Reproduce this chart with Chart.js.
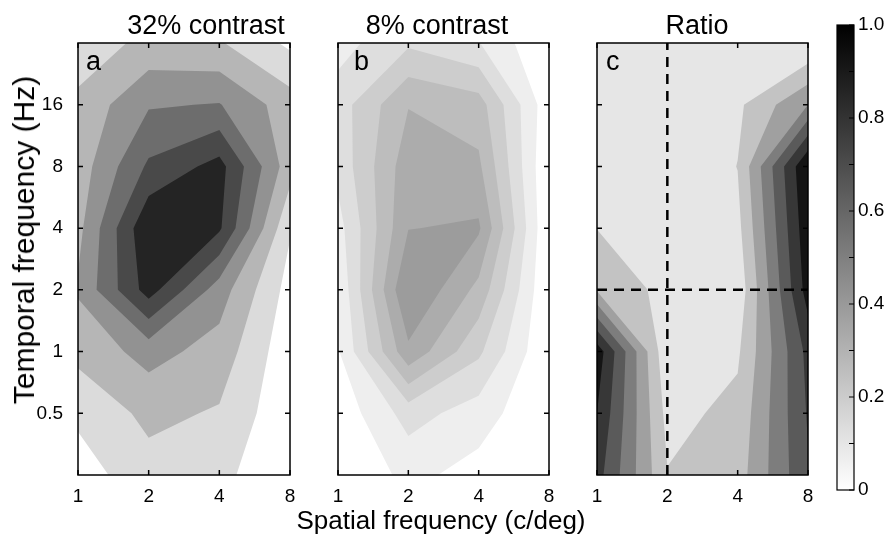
<!DOCTYPE html>
<html>
<head>
<meta charset="utf-8">
<script src="https://cdn.jsdelivr.net/npm/chart.js@4.4.0/dist/chart.umd.min.js"></script>
<style>
  body { margin: 0; background: #fff; }
  #page { position: relative; width: 889px; height: 547px; overflow: hidden; font-family: "Liberation Sans", Arial, sans-serif; color: #000; }
  canvas { position: absolute; top: 0; }
  .txt { position: absolute; white-space: nowrap; line-height: 1; }
</style>
</head>
<body>
<div id="page">
  <canvas id="panel-a" width="300" height="510" style="left:0px"></canvas>
  <canvas id="panel-b" width="251" height="510" style="left:308px"></canvas>
  <canvas id="panel-c" width="251" height="510" style="left:567px"></canvas>
  <canvas id="colorbar" width="69" height="500" style="left:820px"></canvas>

  <div class="txt" style="left:56px;width:300px;text-align:center;top:12px;font-size:27px">32% contrast</div>
  <div class="txt" style="left:287px;width:300px;text-align:center;top:12px;font-size:27px">8% contrast</div>
  <div class="txt" style="left:547px;width:300px;text-align:center;top:12px;font-size:27px">Ratio</div>
  <div class="txt" style="left:86px;top:48px;font-size:27px">a</div>
  <div class="txt" style="left:354px;top:48px;font-size:27px">b</div>
  <div class="txt" style="left:606px;top:48px;font-size:27px">c</div>
  <div class="txt" style="left:241px;width:400px;text-align:center;top:507px;font-size:26px">Spatial frequency (c/deg)</div>
  <div class="txt" style="left:24px;top:240px;font-size:30px;transform:translate(-50%,-50%) rotate(-90deg)">Temporal frequency (Hz)</div>
</div>

<script>
// grid of the measurements
const xFreq = [1, 2, 4, 8];                       // spatial frequency (c/deg)
const yFreq = [0.25, 0.5, 1, 2, 4, 8, 16, 32];    // temporal frequency (Hz)
const xTicks = [1, 2, 4, 8];
const yTicks = [0.5, 1, 2, 4, 8, 16];

// responses, one row per temporal frequency (bottom to top), columns = xFreq
const contrast32 = [
  [0.077, 0.230, 0.184, 0.014],
  [0.171, 0.323, 0.271, 0.029],
  [0.329, 0.483, 0.371, 0.043],
  [0.446, 0.921, 0.500, 0.086],
  [0.386, 0.986, 0.879, 0.157],
  [0.351, 0.739, 0.910, 0.347],
  [0.323, 0.557, 0.579, 0.354],
  [0.193, 0.329, 0.300, 0.114]
];
const contrast8 = [
  [0.000, 0.084, 0.039, 0.000],
  [0.020, 0.157, 0.099, 0.000],
  [0.059, 0.375, 0.208, 0.000],
  [0.072, 0.462, 0.306, 0.000],
  [0.104, 0.388, 0.400, 0.000],
  [0.150, 0.364, 0.338, 0.001],
  [0.163, 0.322, 0.290, 0.021],
  [0.104, 0.184, 0.133, 0.000]
];
const ratio = [
  [0.840, 0.244, 0.311, 0.771],
  [0.922, 0.193, 0.275, 0.799],
  [1.004, 0.125, 0.216, 0.826],
  [0.360, 0.189, 0.141, 0.986],
  [0.234, 0.127, 0.196, 1.026],
  [0.100, 0.100, 0.240, 1.066],
  [0.100, 0.100, 0.210, 0.511],
  [0.100, 0.100, 0.100, 0.100]
];

// contour levels of each panel
const levels32 = [0.143, 0.286, 0.429, 0.571, 0.714, 0.857];
const levels8 = [0.065, 0.13, 0.195, 0.26, 0.325, 0.39];
const levelsRatio = [0.1, 0.237, 0.374, 0.511, 0.648, 0.785, 0.922];

// dashed reference lines in the ratio panel
const refX = 2;
const refY = 2;

// colorbar ticks
const cbTicks = [0, 0.1, 0.2, 0.3, 0.4, 0.5, 0.6, 0.7, 0.8, 0.9, 1.0];

Chart.defaults.font.family = '"Liberation Sans", Arial, sans-serif';
Chart.defaults.color = '#000';

function gray(v) {
  const g = Math.round(255 * Math.min(1, Math.max(0, 1 - v)));
  return `rgb(${g},${g},${g})`;
}

function noPad(s) {
  s.paddingLeft = 0;
  s.paddingRight = 0;
  s.paddingTop = 0;
  s.paddingBottom = 0;
}

// filled contours, cell by cell, through the chart scales
function contourPlugin(z, levels) {
  return {
    id: 'contour',
    beforeDatasetsDraw(chart) {
      const { ctx, chartArea, scales } = chart;
      const px = xFreq.map((v) => scales.x.getPixelForValue(v));
      const py = yFreq.map((v) => scales.y.getPixelForValue(v));
      ctx.save();
      ctx.fillStyle = '#fff';
      ctx.fillRect(chartArea.left, chartArea.top, chartArea.width, chartArea.height);
      levels.forEach((L) => {
        ctx.beginPath();
        for (let j = 0; j < yFreq.length - 1; j++) {
          for (let i = 0; i < xFreq.length - 1; i++) {
            const c = [[i, j], [i + 1, j], [i + 1, j + 1], [i, j + 1]].map(([a, b]) => ({
              x: px[a], y: py[b], z: z[b][a]
            }));
            const poly = [];
            for (let m = 0; m < 4; m++) {
              const A = c[m], B = c[(m + 1) % 4];
              if (A.z >= L) poly.push(A);
              if ((A.z >= L) !== (B.z >= L)) {
                const t = (L - A.z) / (B.z - A.z);
                poly.push({ x: A.x + t * (B.x - A.x), y: A.y + t * (B.y - A.y) });
              }
            }
            if (poly.length > 2) {
              ctx.moveTo(poly[0].x, poly[0].y);
              poly.slice(1).forEach((q) => ctx.lineTo(q.x, q.y));
              ctx.closePath();
            }
          }
        }
        ctx.fillStyle = gray(L);
        ctx.fill();
      });
      ctx.restore();
    }
  };
}

// box and inward ticks (matlab style)
const framePlugin = {
  id: 'frame',
  afterDraw(chart) {
    const { ctx, chartArea: a, scales: { x, y } } = chart;
    ctx.save();
    ctx.strokeStyle = '#000';
    ctx.lineWidth = 1.5;
    ctx.beginPath();
    xTicks.forEach((v) => {
      const p = x.getPixelForValue(v);
      ctx.moveTo(p, a.bottom); ctx.lineTo(p, a.bottom - 5);
      ctx.moveTo(p, a.top); ctx.lineTo(p, a.top + 5);
    });
    yTicks.forEach((v) => {
      const p = y.getPixelForValue(v);
      ctx.moveTo(a.left, p); ctx.lineTo(a.left + 5, p);
      ctx.moveTo(a.right, p); ctx.lineTo(a.right - 5, p);
    });
    ctx.stroke();
    ctx.strokeRect(a.left, a.top, a.width, a.height);
    ctx.restore();
  }
};

function makePanel(id, z, levels, padLeft, showY, datasets) {
  new Chart(document.getElementById(id), {
    type: 'scatter',
    data: { datasets: datasets },
    options: {
      responsive: false,
      animation: false,
      layout: { autoPadding: false, padding: { top: 43, right: 10, left: 0, bottom: 0 } },
      plugins: { legend: { display: false }, tooltip: { enabled: false } },
      scales: {
        x: {
          type: 'logarithmic', min: 1, max: 8,
          grid: { display: false, drawTicks: false }, border: { display: false },
          afterBuildTicks: (s) => { s.ticks = xTicks.map((v) => ({ value: v })); },
          afterFit: (s) => { s.height = 35; noPad(s); },
          ticks: { font: { size: 19 }, padding: 10, maxRotation: 0, callback: (v) => String(v) }
        },
        y: {
          type: 'logarithmic', min: 0.25, max: 32,
          grid: { display: false, drawTicks: false }, border: { display: false },
          afterBuildTicks: (s) => { s.ticks = yTicks.map((v) => ({ value: v })); },
          afterFit: (s) => { s.width = padLeft; noPad(s); },
          ticks: { display: showY, font: { size: 19 }, padding: 15, callback: (v) => String(v) }
        }
      }
    },
    plugins: [contourPlugin(z, levels), framePlugin]
  });
}

makePanel('panel-a', contrast32, levels32, 78, true, []);
makePanel('panel-b', contrast8, levels8, 30, false, []);

const dashStyle = { showLine: true, pointRadius: 0, borderColor: '#000', borderWidth: 2.5, borderDash: [10, 7] };
makePanel('panel-c', ratio, levelsRatio, 30, false, [
  Object.assign({ data: [{ x: refX, y: yFreq[0] }, { x: refX, y: yFreq[yFreq.length - 1] }] }, dashStyle),
  Object.assign({ data: [{ x: xFreq[0], y: refY }, { x: xFreq[xFreq.length - 1], y: refY }] }, dashStyle)
]);

// colorbar
const cbPlugin = {
  id: 'cbframe',
  afterDraw(chart) {
    const { ctx, chartArea: a, scales: { y } } = chart;
    ctx.save();
    ctx.strokeStyle = '#000';
    ctx.lineWidth = 1.2;
    ctx.beginPath();
    cbTicks.forEach((v) => {
      const p = y.getPixelForValue(v);
      ctx.moveTo(a.right, p); ctx.lineTo(a.right - 5, p);
    });
    ctx.stroke();
    ctx.strokeRect(a.left, a.top, a.width, a.height);
    ctx.restore();
  }
};

new Chart(document.getElementById('colorbar'), {
  type: 'bar',
  data: {
    labels: [''],
    datasets: [{
      data: [[0, 1]],
      barPercentage: 1,
      categoryPercentage: 1,
      backgroundColor: (c) => {
        const area = c.chart.chartArea;
        if (!area) return '#888';
        const g = c.chart.ctx.createLinearGradient(0, area.bottom, 0, area.top);
        g.addColorStop(0, '#ffffff');
        g.addColorStop(1, '#000000');
        return g;
      }
    }]
  },
  options: {
    responsive: false,
    animation: false,
    layout: { autoPadding: false, padding: { top: 25, left: 17, right: 0, bottom: 10 } },
    plugins: { legend: { display: false }, tooltip: { enabled: false } },
    scales: {
      x: { display: false },
      y: {
        position: 'right', min: 0, max: 1,
        grid: { display: false, drawTicks: false }, border: { display: false },
        afterBuildTicks: (s) => { s.ticks = cbTicks.map((v) => ({ value: v })); },
        afterFit: (s) => { s.width = 35; noPad(s); },
        ticks: {
          font: { size: 19 }, padding: 4,
          callback: (v) => (Math.round(v * 10) % 2 === 0 ? (v === 0 ? '0' : v.toFixed(1)) : '')
        }
      }
    }
  },
  plugins: [cbPlugin]
});
</script>
</body>
</html>
